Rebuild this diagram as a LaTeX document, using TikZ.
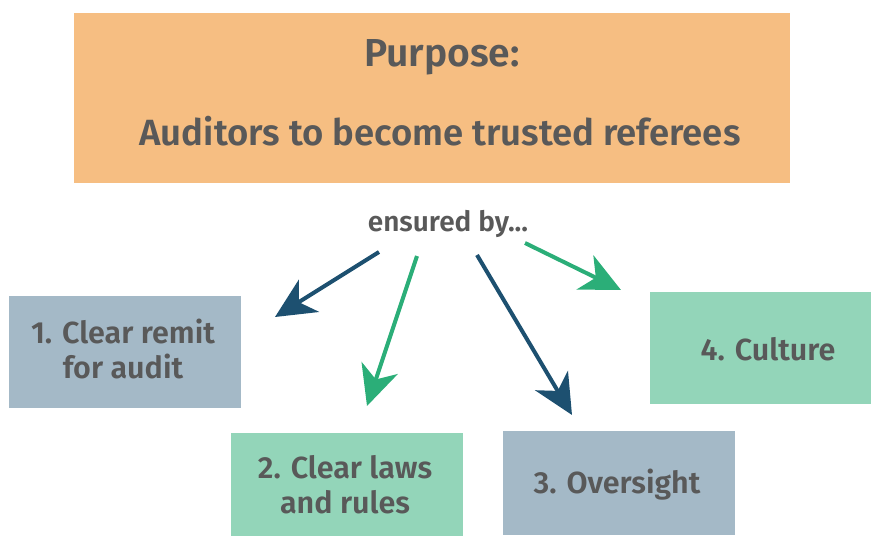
\documentclass[tikz,border=0pt]{standalone}
\usepackage{fontspec}
\setmainfont{Fira Sans}[BoldFont={Fira Sans SemiBold}]
\usetikzlibrary{arrows.meta}
\definecolor{txt}{HTML}{595959}
\definecolor{peach}{HTML}{F6BE82}
\definecolor{slate}{HTML}{A4B9C7}
\definecolor{mint}{HTML}{93D5B9}
\definecolor{navy}{HTML}{1D5070}
\definecolor{jade}{HTML}{2BAE78}
\tikzset{
  card/.style={fill=#1, draw=none, inner sep=0pt},
  cardtext/.style={text=txt, align=center, inner sep=0pt,
    font=\bfseries\fontsize{30.5}{35}\selectfont},
  link/.style={line width=4pt, draw=#1,
    -{Stealth[length=40pt, width=38pt, inset=12pt, fill=#1]}},
}
\begin{document}
\begin{tikzpicture}[x=1pt, y=-1pt]
  \useasboundingbox (0,0) rectangle (871,536);
  % headline box
  \node[card=peach, minimum width=716pt, minimum height=170pt] (purpose) at (432,98) {};
  \node[text=txt, font=\bfseries\fontsize{39}{48}\selectfont] (ptitle) at (442,57) {Purpose:};
  \node[text=txt, font=\bfseries\fontsize{36.5}{44}\selectfont] (pgoal) at (440,131) {Auditors to become trusted referees};
  % connector label
  \node[text=txt, font=\bfseries\fontsize{28}{34}\selectfont] (by) at (448,224) {ensured by...};
  % the four pillars
  \node[card=slate, minimum width=232pt, minimum height=112pt] (p1) at (125,352) {};
  \node[cardtext] (t1) at (123,349) {1. Clear remit\\for audit};
  \node[card=mint, minimum width=232pt, minimum height=103pt] (p2) at (347,484) {};
  \node[cardtext] (t2) at (345,485) {2. Clear laws\\and rules};
  \node[card=slate, minimum width=232pt, minimum height=104pt] (p3) at (619,483) {};
  \node[cardtext] (t3) at (617,485) {3. Oversight};
  \node[card=mint, minimum width=221pt, minimum height=112pt] (p4) at (760,348) {};
  \node[cardtext] (t4) at (768,349) {4. Culture};
  % arrow ends
  \coordinate (a1s) at (379,252); \coordinate (a1e) at (275,317);
  \coordinate (a2s) at (417,256); \coordinate (a2e) at (367,406);
  \coordinate (a3s) at (477,255); \coordinate (a3e) at (572,415);
  \coordinate (a4s) at (525,243); \coordinate (a4e) at (621,290);
  \draw[link=navy] (a1s) -- (a1e);
  \draw[link=jade] (a2s) -- (a2e);
  \draw[link=navy] (a3s) -- (a3e);
  \draw[link=jade] (a4s) -- (a4e);
\end{tikzpicture}
\end{document}
